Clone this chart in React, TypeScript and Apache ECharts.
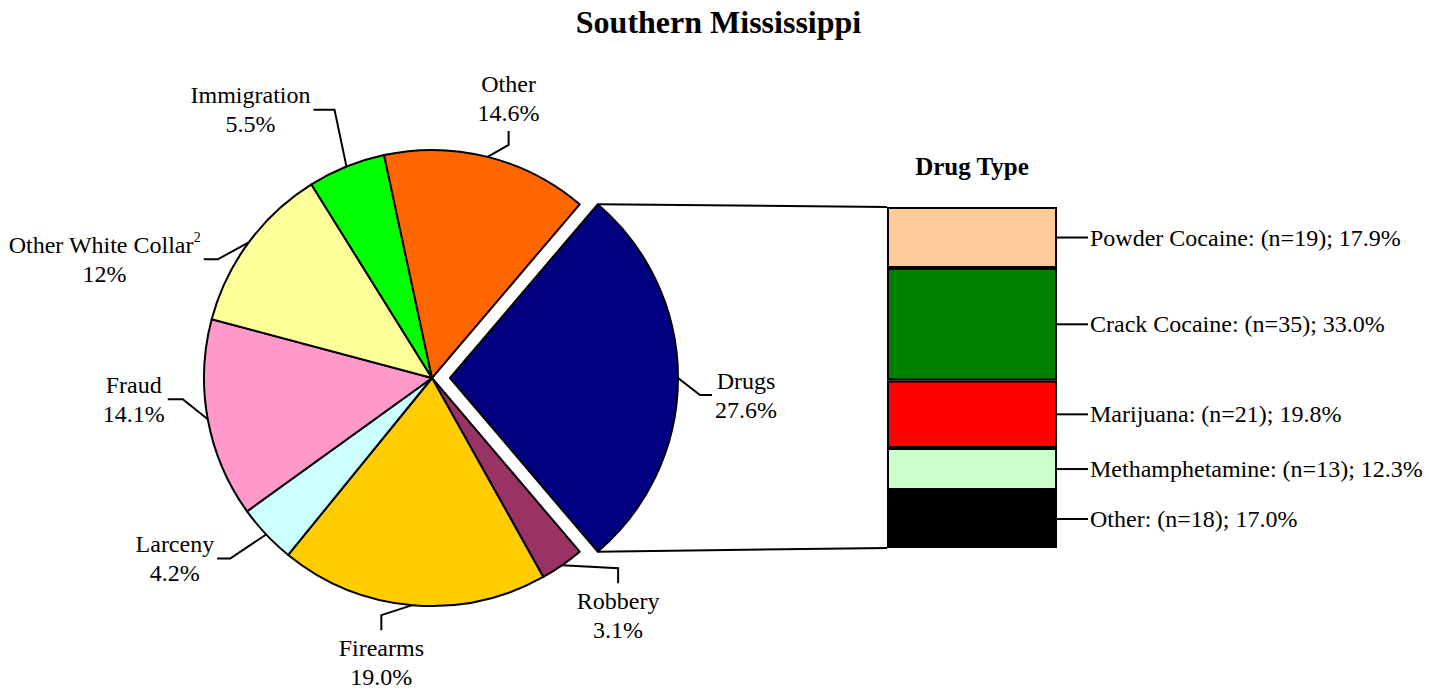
import React, { useEffect, useRef } from 'react';
import * as echarts from 'echarts';

// ---------- data ----------
const crimeNames = ['Drugs', 'Robbery', 'Firearms', 'Larceny', 'Fraud', 'Other White Collar', 'Immigration', 'Other'];
const crimePct = [27.6, 3.1, 19.0, 4.2, 14.1, 12, 5.5, 14.6];
const crimePctLabels = ['27.6%', '3.1%', '19.0%', '4.2%', '14.1%', '12%', '5.5%', '14.6%'];
const crimeColors = ['#000080', '#993366', '#FFCC00', '#CCFFFF', '#FF99CC', '#FFFF99', '#00FF00', '#FF6600'];

const drugNames = ['Powder Cocaine', 'Crack Cocaine', 'Marijuana', 'Methamphetamine', 'Other'];
const drugCounts = [19, 35, 21, 13, 18];
const drugPct = [17.9, 33.0, 19.8, 12.3, 17.0];
const drugColors = ['#FFCC99', '#008000', '#FF0000', '#CCFFCC', '#000000'];

// ---------- layout / style ----------
const FONT = '"Liberation Serif", "Times New Roman", serif';
const PIE_CX = 432;
const PIE_CY = 378;
const PIE_R = 228;
const EXPLODE = 18;
const BAR_LEFT = 887;
const BAR_TOP = 207;
const BAR_W = 170;
const BAR_H = 341;
const LABEL_GAP = 3;
const LINE_W = 2;

// leader-line shape per slice: elbow offset and end offset from the slice edge, label side
const leaders: { e: number[]; t: number[]; side: string }[] = [
  { e: [22, 17], t: [34, 17], side: 'right' },
  { e: [56, 3], t: [56, 18], side: 'bottom' },
  { e: [-31, 10], t: [-31, 25], side: 'bottom' },
  { e: [-36, 24], t: [-49, 24], side: 'left' },
  { e: [-25, -20], t: [-40, -20], side: 'left' },
  { e: [-31, 17], t: [-45, 17], side: 'left' },
  { e: [-12, -57], t: [-33, -57], side: 'left' },
  { e: [21, -12], t: [21, -26], side: 'top' },
];

const total = crimePct.reduce((a, b) => a + b, 0);
const startAngle = (360 * crimePct[0]) / total / 2;
const midAngles: number[] = [];
{
  let cum = 0;
  crimePct.forEach((v) => {
    midAngles.push(startAngle - ((cum + v / 2) / total) * 360);
    cum += v;
  });
}
const rad = (d: number) => (d * Math.PI) / 180;
const explodeDx = EXPLODE * Math.cos(rad(midAngles[0]));
const explodeDy = -EXPLODE * Math.sin(rad(midAngles[0]));

function edgePoint(i: number): number[] {
  const a = rad(midAngles[i]);
  const ox = i === 0 ? explodeDx : 0;
  const oy = i === 0 ? explodeDy : 0;
  return [PIE_CX + ox + PIE_R * Math.cos(a), PIE_CY + oy - PIE_R * Math.sin(a)];
}

function labelFormatter(i: number): string {
  if (crimeNames[i] === 'Other White Collar') {
    return `{n|${crimeNames[i]}}{s|2}\n{n|${crimePctLabels[i]}}`;
  }
  return `{n|${crimeNames[i]}}\n{n|${crimePctLabels[i]}}`;
}

const richStyle = {
  n: { fontFamily: FONT, fontSize: 24, lineHeight: 29, color: '#000' },
  s: { fontFamily: FONT, fontSize: 14, lineHeight: 15, verticalAlign: 'top', color: '#000' },
};

function labelLayout(params: any) {
  const i = params.dataIndex;
  const p0 = edgePoint(i);
  const L = leaders[i];
  const p1 = [p0[0] + L.e[0], p0[1] + L.e[1]];
  const p2 = [p0[0] + L.t[0], p0[1] + L.t[1]];
  const w = params.labelRect.width;
  let x = p2[0];
  let y = p2[1];
  let verticalAlign = 'middle';
  if (L.side === 'left') x = p2[0] - LABEL_GAP - w / 2;
  else if (L.side === 'right') x = p2[0] + LABEL_GAP + w / 2;
  else if (L.side === 'top') { y = p2[1] - LABEL_GAP; verticalAlign = 'bottom'; }
  else { y = p2[1] + LABEL_GAP; verticalAlign = 'top'; }
  return { x, y, align: 'center', verticalAlign, labelLinePoints: [p0, p1, p2] };
}

function pieSeries(showIdx: (i: number) => boolean, center: number[]) {
  return {
    type: 'pie',
    center,
    radius: PIE_R,
    startAngle,
    clockwise: true,
    avoidLabelOverlap: false,
    silent: true,
    emphasis: { disabled: true },
    label: { show: true, position: 'outside', align: 'center', rich: richStyle },
    labelLine: { show: true, length: 10, length2: 10, lineStyle: { color: '#000', width: LINE_W } },
    labelLayout,
    data: crimeNames.map((name, i) => {
      const shown = showIdx(i);
      return {
        name,
        value: crimePct[i],
        itemStyle: shown
          ? { color: crimeColors[i], borderColor: '#000', borderWidth: LINE_W }
          : { color: 'rgba(0,0,0,0)', borderWidth: 0 },
        label: { show: shown, formatter: labelFormatter(i) },
        labelLine: { show: shown },
      };
    }),
  };
}

export default function App() {
  const ref = useRef<HTMLDivElement>(null);
  useEffect(() => {
    const chart = echarts.init(ref.current!, null, { renderer: 'svg' });
    const option: any = {
      animation: false,
      backgroundColor: '#fff',
      title: {
        text: 'Southern Mississippi',
        left: 'center',
        top: 6,
        padding: 0,
        textStyle: { fontFamily: FONT, fontSize: 32, fontWeight: 'bold', color: '#000' },
      },
      grid: { left: BAR_LEFT, top: BAR_TOP, width: BAR_W, height: BAR_H },
      xAxis: { type: 'category', data: ['Drugs'], show: false },
      yAxis: { type: 'value', min: 0, max: 100, inverse: true, show: false },
      series: [
        pieSeries((i) => i !== 0, [PIE_CX, PIE_CY]),
        pieSeries((i) => i === 0, [PIE_CX + explodeDx, PIE_CY + explodeDy]),
        ...drugNames.map((n, i) => ({
          type: 'bar',
          name: n,
          stack: 'drug',
          barWidth: '100%',
          silent: true,
          data: [drugPct[i]],
          itemStyle: { color: drugColors[i], borderColor: '#000', borderWidth: LINE_W },
          label: {
            show: true,
            position: 'right',
            distance: 33,
            formatter: `${n}: (n=${drugCounts[i]}); ${drugPct[i].toFixed(1)}%`,
            fontFamily: FONT,
            fontSize: 24,
            color: '#000',
          },
        })),
      ],
    };
    chart.setOption(option);

    // connector and leader lines derived from the pie geometry and the bar axis
    const yTop = chart.convertToPixel({ yAxisIndex: 0 }, 0) as number;
    const yBot = chart.convertToPixel({ yAxisIndex: 0 }, 100) as number;
    const a0 = rad(startAngle);
    const dcx = PIE_CX + explodeDx;
    const dcy = PIE_CY + explodeDy;
    const pieTop = [dcx + PIE_R * Math.cos(a0), dcy - PIE_R * Math.sin(a0)];
    const pieBot = [dcx + PIE_R * Math.cos(-a0), dcy - PIE_R * Math.sin(-a0)];
    const barRight = BAR_LEFT + BAR_W;
    const lineStyle = { stroke: '#000', lineWidth: LINE_W };
    const elements: any[] = [
      { type: 'line', shape: { x1: pieTop[0], y1: pieTop[1], x2: BAR_LEFT, y2: yTop }, style: lineStyle, z: 1 },
      { type: 'line', shape: { x1: pieBot[0], y1: pieBot[1], x2: BAR_LEFT, y2: yBot }, style: lineStyle, z: 1 },
      {
        type: 'text',
        x: BAR_LEFT + BAR_W / 2,
        y: 166,
        style: {
          text: 'Drug Type',
          fontFamily: FONT,
          fontSize: 25,
          fontWeight: 'bold',
          fill: '#000',
          textAlign: 'center',
          textVerticalAlign: 'middle',
        },
      },
    ];
    let cum = 0;
    drugPct.forEach((v) => {
      const y = chart.convertToPixel({ yAxisIndex: 0 }, cum + v / 2) as number;
      cum += v;
      elements.push({ type: 'line', shape: { x1: barRight, y1: y, x2: barRight + 31, y2: y }, style: lineStyle, z: 10 });
    });
    chart.setOption({ graphic: { elements } });
    return () => chart.dispose();
  }, []);
  return (
    <div
      ref={ref}
      style={{ position: 'absolute', left: 0, top: 0, width: 1437, height: 690, background: '#fff' }}
    />
  );
}
